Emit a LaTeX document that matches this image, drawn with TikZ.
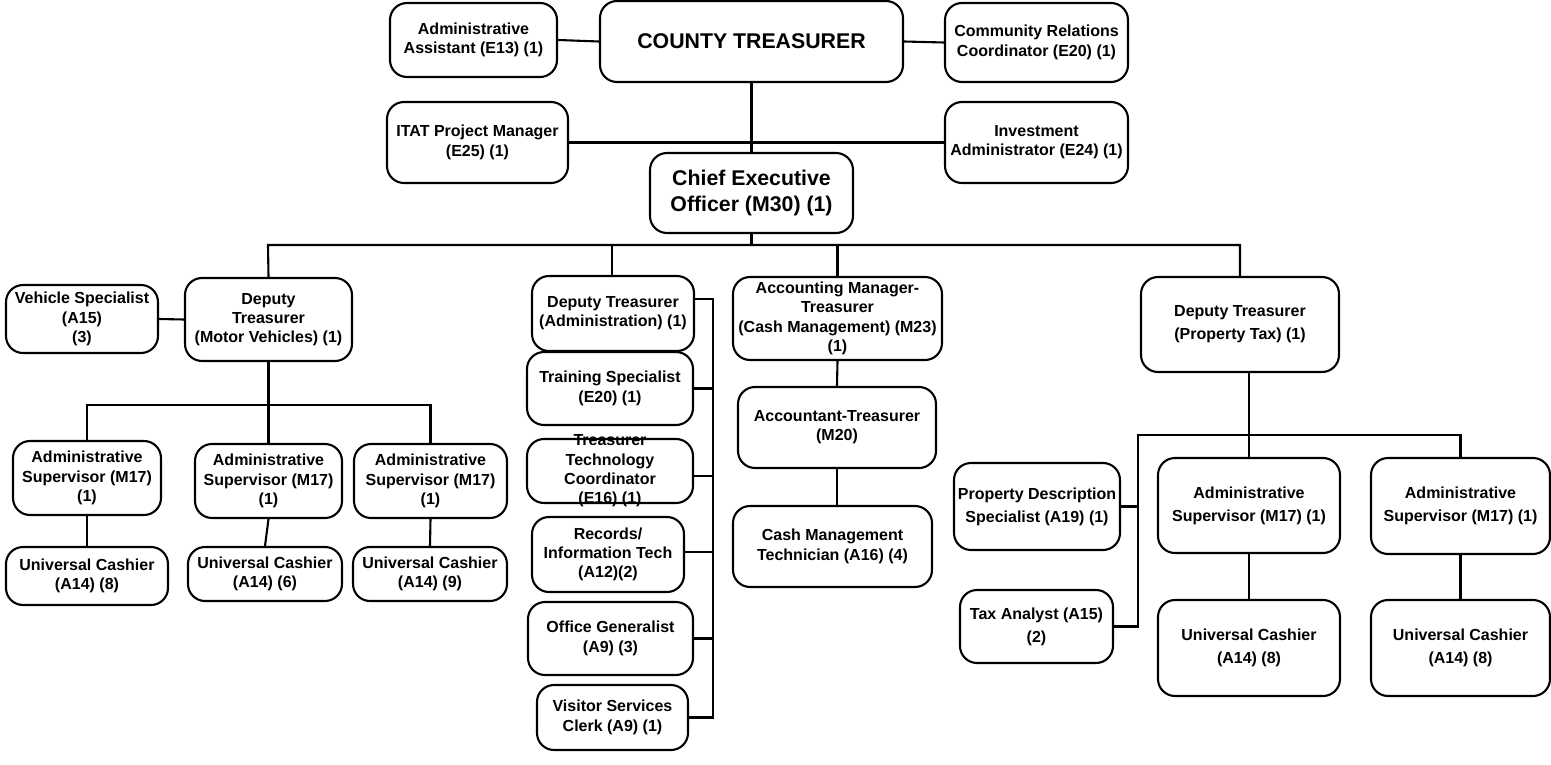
\documentclass[tikz,border=0pt]{standalone}
\usepackage{fontspec}
\setmainfont{Liberation Sans}
\begin{document}
\begin{tikzpicture}[x=1pt,y=-1pt,
  box/.style={draw, line width=2.1pt, rounded corners=17pt, align=center, inner sep=0pt, font=\bfseries\fontsize{16}{19.3}\selectfont},
  big/.style={box, font=\bfseries\fontsize{21.3}{26.7}\selectfont},
  wide/.style={box, font=\bfseries\fontsize{16}{23}\selectfont},
  txt/.style={align=center, inner sep=0pt, font=\bfseries\fontsize{16}{19.3}\selectfont},
  sz/.style 2 args={minimum width=#1pt, minimum height=#2pt},
  link/.style={line width=2.1pt}
]
\useasboundingbox (0,0) rectangle (1551,765);

% top level
\node[box, sz={167}{74}] (aa) at (473.5,40) {Administrative\\Assistant (E13) (1)};
\node[big, sz={303}{81}] (ct) at (751.5,41.5) {COUNTY TREASURER};
\node[box, sz={183}{79}] (crc) at (1036.5,42.5) {Community Relations\\Coordinator (E20) (1)};
\node[box, sz={181}{81}] (itat) at (477.5,142.5) {ITAT Project Manager\\(E25) (1)};
\node[box, sz={183}{81}] (inv) at (1036.5,142.5) {Investment\\Administrator (E24) (1)};
\node[big, sz={203}{80}] (ceo) at (751.5,193) {Chief Executive\\Officer (M30) (1)};

% second level
\node[box, sz={152}{68}] (vs) at (82,319) {Vehicle Specialist\\(A15)\\(3)};
\node[box, sz={167}{83}] (dtmv) at (268.5,319.5) {Deputy\\Treasurer\\(Motor Vehicles) (1)};
\node[box, sz={162}{75}] (dta) at (613,313.5) {Deputy Treasurer\\(Administration) (1)};
\node[box, sz={209}{83}] (amt) at (837.5,318.5) {Accounting Manager-\\Treasurer\\(Cash Management) (M23)\\(1)};
\node[wide, sz={198}{95}] (dtpt) at (1240,324.5) {Deputy Treasurer\\(Property Tax) (1)};

% motor vehicles
\node[box, sz={148}{74}] (asm1) at (87,478) {Administrative\\Supervisor (M17)\\(1)};
\node[box, sz={147}{74}] (asm2) at (268.5,481) {Administrative\\Supervisor (M17)\\(1)};
\node[box, sz={153}{74}] (asm3) at (430.5,481) {Administrative\\Supervisor (M17)\\(1)};
\node[box, sz={162}{58}] (ucm1) at (87,576) {Universal Cashier\\(A14) (8)};
\node[box, sz={154}{54}] (ucm2) at (265,574) {Universal Cashier\\(A14) (6)};
\node[box, sz={154}{54}] (ucm3) at (430,574) {Universal Cashier\\(A14) (9)};

% administration
\node[box, sz={166}{73}] (ts) at (610,388.5) {Training Specialist\\(E20) (1)};
\node[box, sz={166}{64}] (ttc) at (610,471) {};
\node[txt] (ttct) at (ttc.center) {Treasurer\\Technology\\Coordinator\\(E16) (1)};
\node[box, sz={152}{75}] (rit) at (608,554.5) {Records/\\Information Tech\\(A12)(2)};
\node[box, sz={165}{73}] (og) at (610.5,638.5) {Office Generalist\\(A9) (3)};
\node[box, sz={151}{65}] (vsc) at (612.5,717.5) {Visitor Services\\Clerk (A9) (1)};

% cash management
\node[box, sz={198}{81}] (at) at (837,427.5) {Accountant-Treasurer\\(M20)};
\node[box, sz={199}{81}] (cmt) at (832.5,546.5) {Cash Management\\Technician (A16) (4)};

% property tax
\node[wide, sz={166}{87}] (pds) at (1037,506.5) {Property Description\\Specialist (A19) (1)};
\node[wide, sz={153}{73}] (ta) at (1036.5,626.5) {Tax Analyst (A15)\\(2)};
\node[wide, sz={182}{95}] (asp1) at (1249,505.5) {Administrative\\Supervisor (M17) (1)};
\node[wide, sz={179}{96}] (asp2) at (1460.5,506) {Administrative\\Supervisor (M17) (1)};
\node[wide, sz={182}{96}] (ucp1) at (1249,648) {Universal Cashier\\(A14) (8)};
\node[wide, sz={179}{96}] (ucp2) at (1460.5,648) {Universal Cashier\\(A14) (8)};

% coordinates
\coordinate (busL) at (268,245);
\coordinate (busR) at (1240,245);
\coordinate (mvbus) at (0,405);
\coordinate (sp1) at (713,299);
\coordinate (ptbus) at (1138,435);

% connectors top
\draw[link] (aa.east) -- (ct.west);
\draw[link] (ct.east) -- (crc.west);
\draw[link] (itat.east) -- (inv.west);
\draw[link] (ct.south) -- (ceo.north);
\draw[link] (ceo.south) -- (ceo.south |- busL);
\draw[link] (dtmv.north) -- (busL) -- (busR) -- (dtpt.north);
\draw[link] (dta.north -| 612,0) -- (612,245);
\draw[link] (amt.north) -- (amt.north |- busL);

% motor vehicles
\draw[link] (vs.east) -- (dtmv.west);
\draw[link] (dtmv.south) -- (asm2.north);
\draw[link] (asm1.north) -- (asm1.north |- mvbus) -- (asm3.north |- mvbus) -- (asm3.north);
\draw[link] (asm1.south) -- (ucm1.north);
\draw[link] (asm2.south) -- (ucm2.north);
\draw[link] (asm3.south) -- (ucm3.north);

% administration
\draw[link] ([yshift=14.5pt]dta.east) -- (sp1) -- (sp1 |- vsc.east) -- (vsc.east);
\draw[link] (ts.east) -- (ts.east -| sp1);
\draw[link] ([yshift=-5pt]ttc.east) -- ([yshift=-5pt]ttc.east -| sp1);
\draw[link] ([yshift=2.5pt]rit.east) -- ([yshift=2.5pt]rit.east -| sp1);
\draw[link] (og.east) -- (og.east -| sp1);

% cash management
\draw[link] (amt.south) -- (at.north);
\draw[link] (at.south) -- (at.south |- cmt.north);

% property tax
\draw[link] (dtpt.south -| asp1.north) -- (asp1.north);
\draw[link] (ta.east) -| (ptbus) -| (asp2.north);
\draw[link] (pds.east) -- (pds.east -| ptbus);
\draw[link] (asp1.south) -- (ucp1.north);
\draw[link] (asp2.south) -- (ucp2.north);
\end{tikzpicture}
\end{document}
